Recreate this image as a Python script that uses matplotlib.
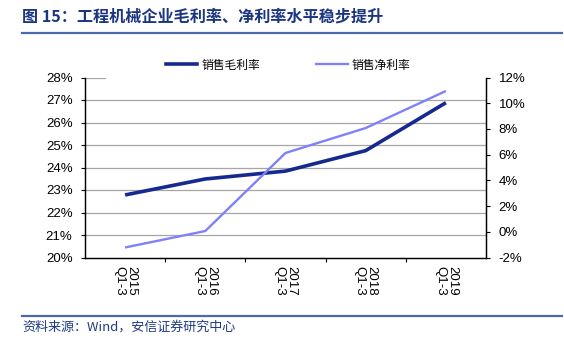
import matplotlib
matplotlib.use("Agg")
import matplotlib.pyplot as plt
from matplotlib.lines import Line2D

categories = ["2015\nQ1-3", "2016\nQ1-3", "2017\nQ1-3", "2018\nQ1-3", "2019\nQ1-3"]
gross_margin = [22.78, 23.49, 23.84, 24.75, 26.88]
net_margin = [-1.22, 0.06, 6.13, 8.07, 10.95]
left_ticks = [20, 21, 22, 23, 24, 25, 26, 27, 28]
right_ticks = [-2, 0, 2, 4, 6, 8, 10, 12]
series_names = ["销售毛利率", "销售净利率"]
title = "图 15：工程机械企业毛利率、净利率水平稳步提升"
source = "资料来源：Wind，安信证券研究中心"

LAT = ["Liberation Sans", "Noto Sans CJK SC"]
CJK = ["Noto Sans CJK SC", "Liberation Sans"]
plt.rcParams["font.family"] = LAT

W, H = 564, 353
fig = plt.figure(figsize=(W / 100, H / 100), dpi=100)

def fx(px):
    return px / W

def fy(py):
    return 1 - py / H

ax = fig.add_axes([fx(85), fy(257.5), fx(486) - fx(85), fy(77.5) - fy(257.5)])
ax2 = ax.twinx()

n = len(categories)
x = list(range(n))
ax.set_xlim(-0.5, n - 0.5)
ax.set_ylim(20, 28)
ax2.set_ylim(-2, 12)

# gridlines
for t in left_ticks[1:-1]:
    ax.axhline(t, color="#A6A6A6", lw=0.9, zorder=0)
ax.axhline(28, xmin=0, xmax=0.05, color="#A6A6A6", lw=0.9, zorder=0)

ax.plot(x, gross_margin, color="#15298E", lw=2.6, solid_capstyle="butt", zorder=3)
ax2.plot(x, net_margin, color="#8080FA", lw=1.7, solid_capstyle="butt", zorder=3)

# x ticks at boundaries, labels at centers
ax.set_xticks([i + 0.5 for i in range(n - 1)])
ax.set_xticklabels([])
ax.tick_params(axis="x", direction="out", length=3, width=0.8)
for i, lab in enumerate(categories):
    ax.text(i, -0.05, lab, transform=ax.get_xaxis_transform(), rotation=-90,
            ha="center", va="top", fontsize=9.5, family=LAT, color="#000000",
            linespacing=1.0, multialignment="left")

ax.set_yticks(left_ticks)
ax.set_yticklabels([f"{t}%" for t in left_ticks], fontsize=9.5)
ax.tick_params(axis="y", direction="out", length=3, width=0.8, pad=6)
ax2.set_yticks(right_ticks)
ax2.set_yticklabels([f"{t}%" for t in right_ticks], fontsize=9.5)
ax2.tick_params(axis="y", direction="out", length=3, width=0.8, pad=6)

for a in (ax, ax2):
    a.spines["top"].set_visible(False)
    for s in ("left", "right", "bottom"):
        a.spines[s].set_linewidth(0.9)
        a.spines[s].set_color("#000000")

# legend
handles = [Line2D([0], [0], color="#15298E", lw=2.6),
           Line2D([0], [0], color="#8080FA", lw=1.7)]
fig.legend(handles, series_names, loc="center", bbox_to_anchor=(fx(288), fy(65)),
           ncol=2, frameon=False, prop={"family": CJK, "size": 8.5},
           handlelength=2.7, handletextpad=0.35, columnspacing=4.7)

# title and rules
fig.text(fx(22), fy(17), title, fontsize=11.6, fontweight="bold", color="#1B3580",
         family=CJK, ha="left", va="center")
fig.add_artist(Line2D([fx(22), fx(562)], [fy(33), fy(33)], color="#4A6AAE", lw=1.6))
fig.add_artist(Line2D([fx(22), fx(562)], [fy(316), fy(316)], color="#4A6AAE", lw=1.6))
fig.text(fx(22), fy(327), source, fontsize=9.4, style="italic", color="#1F3B82",
         family=CJK, ha="left", va="center")

fig.savefig("out.png", dpi=100)
